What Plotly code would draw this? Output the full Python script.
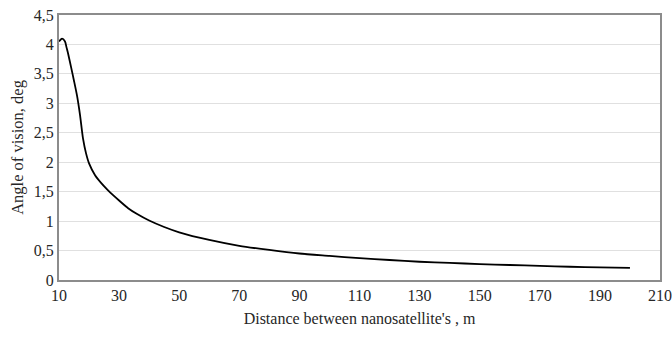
import plotly.graph_objects as go

distance_m = [10, 11, 12, 12.5, 13, 14, 15, 16, 17, 18, 19, 20, 22, 24, 26, 28, 30, 33, 36, 40,
              45, 50, 60, 70, 80, 90, 100, 110, 120, 130, 140, 150, 160, 170, 180, 190, 200]
angle_deg = [4.05, 4.1, 4.05, 3.95, 3.85, 3.62, 3.38, 3.13, 2.8, 2.4, 2.15, 1.98, 1.78, 1.65, 1.54,
             1.44, 1.35, 1.22, 1.12, 1.01, 0.9, 0.81, 0.68, 0.58, 0.51, 0.45, 0.41, 0.37, 0.34,
             0.31, 0.29, 0.27, 0.255, 0.24, 0.225, 0.215, 0.205]

x_ticks = list(range(10, 211, 20))
y_ticks = [0, 0.5, 1, 1.5, 2, 2.5, 3, 3.5, 4, 4.5]

fig = go.Figure()
fig.add_trace(go.Scatter(x=distance_m, y=angle_deg, mode="lines",
                         line=dict(color="black", width=1.8, shape="spline", smoothing=0.6),
                         showlegend=False, hoverinfo="skip"))

serif = "Liberation Serif, Times New Roman, serif"
txt = "#262626"
fig.update_layout(
    width=672, height=338,
    margin=dict(l=59, r=12, t=15, b=58, autoexpand=False),
    paper_bgcolor="white", plot_bgcolor="white",
    separators=", ",
    font=dict(family=serif, size=16, color=txt),
    xaxis=dict(range=[10, 210], tickvals=x_ticks, showgrid=False, zeroline=False,
               showline=True, linecolor="#8c8c8c", linewidth=2, mirror=True,
               ticks="", automargin=False,
               tickfont=dict(family=serif, size=16, color=txt),
               title=dict(text="Distance between nanosatellite's , m",
                          font=dict(family=serif, size=16, color=txt), standoff=10)),
    yaxis=dict(range=[0, 4.5], tickvals=y_ticks, showgrid=True, gridcolor="#e0e0e0", gridwidth=1,
               zeroline=False, showline=True, linecolor="#8c8c8c", linewidth=2, mirror=True,
               ticks="", ticksuffix="  ", automargin=False,
               tickfont=dict(family=serif, size=16, color=txt),
               title=dict(text="Angle of vision, deg",
                          font=dict(family=serif, size=16.5, color=txt), standoff=6)),
)
fig.write_html("out.html", config={"displayModeBar": False},
               post_script="document.body.style.margin='0';document.body.style.padding='0';")
